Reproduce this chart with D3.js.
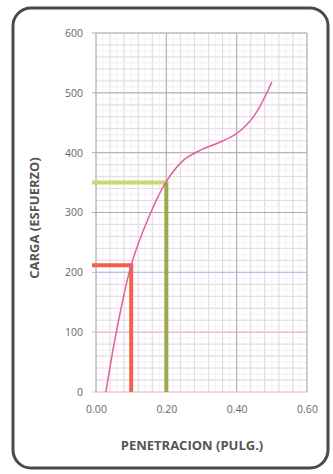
<!DOCTYPE html>
<html>
<head>
<meta charset="utf-8">
<script src="https://cdn.jsdelivr.net/npm/d3@7"></script>
<style>
  body { margin: 0; background: #fff; }
  svg { display: block; }
</style>
</head>
<body>
<div id="chart"></div>
<script>
// chart data
var penetracion = [0.028, 0.05, 0.075, 0.10, 0.15, 0.20, 0.25, 0.30, 0.35, 0.40, 0.45, 0.50];
var carga       = [0,     76,   150,   212,  292,  352,  388,  405,  417,  432,  462,  518];
var xTicks = [0, 0.2, 0.4, 0.6];
var yTicks = [0, 100, 200, 300, 400, 500, 600];
// reference lines: [x, y]
var refRed   = [0.10, 212];
var refGreen = [0.20, 350];

var width = 333, height = 474;

var svg = d3.select("#chart")
  .append("svg")
  .attr("width", width)
  .attr("height", height);

// rounded frame
svg.append("rect")
  .attr("x", 13).attr("y", 8)
  .attr("width", 315).attr("height", 460)
  .attr("rx", 18)
  .attr("fill", "#fff")
  .attr("stroke", "#4a4a4a")
  .attr("stroke-width", 3);

var x = d3.scaleLinear().domain([0, 0.6]).range([96, 307]);
var y = d3.scaleLinear().domain([0, 600]).range([392, 33]);

var g = svg.append("g");

// faint grid
g.selectAll(".fx").data(d3.range(0, 0.601, 0.02)).enter()
  .append("line")
  .attr("x1", d => x(d)).attr("x2", d => x(d))
  .attr("y1", y(0)).attr("y2", y(600))
  .attr("stroke", "#f5eef4").attr("stroke-width", 0.8);
g.selectAll(".fy").data(d3.range(0, 601, 10)).enter()
  .append("line")
  .attr("y1", d => y(d)).attr("y2", d => y(d))
  .attr("x1", x(0)).attr("x2", x(0.6))
  .attr("stroke", "#f5eef4").attr("stroke-width", 0.8);

// minor grid
g.selectAll(".mx").data(d3.range(0, 0.601, 0.04)).enter()
  .append("line")
  .attr("x1", d => x(d)).attr("x2", d => x(d))
  .attr("y1", y(0)).attr("y2", y(600))
  .attr("stroke", "#e2dae4").attr("stroke-width", 1);
g.selectAll(".my").data(d3.range(0, 601, 20)).enter()
  .append("line")
  .attr("y1", d => y(d)).attr("y2", d => y(d))
  .attr("x1", x(0)).attr("x2", x(0.6))
  .attr("stroke", "#e2dae4").attr("stroke-width", 1);

// major grid
g.selectAll(".gx").data(xTicks).enter()
  .append("line")
  .attr("x1", d => x(d)).attr("x2", d => x(d))
  .attr("y1", y(0)).attr("y2", y(600))
  .attr("stroke", "#b0aab4").attr("stroke-width", 1);
g.selectAll(".gy").data(yTicks).enter()
  .append("line")
  .attr("y1", d => y(d)).attr("y2", d => y(d))
  .attr("x1", x(0) - 4).attr("x2", x(0.6))
  .attr("stroke", d => d == 100 ? "#eab0c4" : d == 200 ? "#b0bae2" : d == 0 ? "#f0c0cc" : "#b0aab4")
  .attr("stroke-width", 1);

// axes labels
var yAxis = d3.axisLeft(y).tickValues(yTicks).tickSize(0).tickPadding(13);
svg.append("g")
  .attr("transform", "translate(" + x(0) + ",0)")
  .call(yAxis)
  .call(s => s.select(".domain").remove())
  .selectAll("text")
  .attr("font-family", "Open Sans, sans-serif")
  .attr("font-size", 10.5)
  .attr("fill", "#666");

var xAxis = d3.axisBottom(x).tickValues(xTicks).tickSize(0).tickPadding(14)
  .tickFormat(d3.format(".2f"));
svg.append("g")
  .attr("transform", "translate(0," + y(0) + ")")
  .call(xAxis)
  .call(s => s.select(".domain").remove())
  .selectAll("text")
  .attr("font-family", "Open Sans, sans-serif")
  .attr("font-size", 10.5)
  .attr("fill", "#666");

// titles
svg.append("text")
  .attr("x", 192).attr("y", 450)
  .attr("text-anchor", "middle")
  .attr("font-family", "Open Sans, sans-serif")
  .attr("font-size", 13).attr("font-weight", "bold")
  .attr("fill", "#555")
  .text("PENETRACION (PULG.)");

svg.append("text")
  .attr("transform", "translate(39,218) rotate(-90)")
  .attr("text-anchor", "middle")
  .attr("font-family", "Open Sans, sans-serif")
  .attr("font-size", 13).attr("font-weight", "bold")
  .attr("fill", "#555")
  .text("CARGA (ESFUERZO)");

// reference lines
function refLines(p, hColor, vColor) {
  g.append("line")
    .attr("x1", x(0) - 4).attr("x2", x(p[0]) + 2)
    .attr("y1", y(p[1])).attr("y2", y(p[1]))
    .attr("stroke", hColor).attr("stroke-width", 4);
  g.append("line")
    .attr("x1", x(p[0])).attr("x2", x(p[0]))
    .attr("y1", y(p[1])).attr("y2", y(0))
    .attr("stroke", vColor).attr("stroke-width", 4);
}
refLines(refRed, "#f2604c", "#f2604c");
refLines(refGreen, "#c9d873", "#9aaa48");

// curve
var data = penetracion.map((d, i) => [d, carga[i]]);
var line = d3.line()
  .x(d => x(d[0]))
  .y(d => y(d[1]))
  .curve(d3.curveCatmullRom.alpha(0.5));

g.append("path")
  .datum(data)
  .attr("d", line)
  .attr("fill", "none")
  .attr("stroke", "#e0609a")
  .attr("stroke-width", 1.5);
</script>
</body>
</html>
